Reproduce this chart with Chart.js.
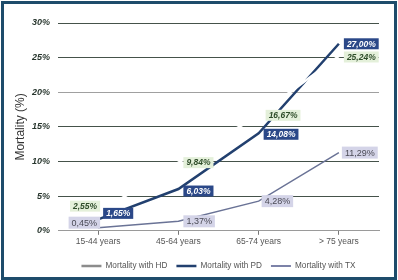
<!DOCTYPE html>
<html>
<head>
<meta charset="utf-8">
<script src="https://cdn.jsdelivr.net/npm/chart.js@4.4.1/dist/chart.umd.min.js"></script>
<style>
  html, body { margin: 0; padding: 0; background: #fff; }
  #wrap { position: relative; width: 398px; height: 280px; }
  #frame {
    position: absolute; left: 1px; top: 1px; width: 390px; height: 273px;
    border: 3px solid #1e4c6b; pointer-events: none;
  }
</style>
</head>
<body>
<div id="wrap">
  <canvas id="mortalityChart" width="398" height="280"></canvas>
  <div id="frame"></div>
</div>
<script>
// -------- Data --------
const categories = ['15-44 years', '45-64 years', '65-74 years', '> 75 years'];
const hdValues = [2.55, 9.84, 16.67, 25.24];
const pdValues = [1.65, 6.03, 14.08, 27.00];
const txValues = [0.45, 1.37, 4.28, 11.29];
const yTickValues = [0, 5, 10, 15, 20, 25, 30];


// -------- Value labels --------
function formatPct(v) {
    return v.toFixed(2).replace('.', ',') + '%';
}

const valueLabels = {
    id: 'valueLabels',
    afterDatasetsDraw(chart) {
        const ctx = chart.ctx;
        chart.data.datasets.forEach((ds, i) => {
            const lab = ds.valueLabel;
            if (!lab) return;
            const meta = chart.getDatasetMeta(i);
            meta.data.forEach((pt, j) => {
                const [side, dx, dy] = lab.place[j];
                const text = formatPct(ds.data[j]);
                ctx.save();
                ctx.font = lab.font;
                const w = ctx.measureText(text).width + lab.padX * 2;
                const h = lab.height;
                const left = side === 'left' ? pt.x + dx : pt.x + dx - w;
                const top = pt.y + dy - h / 2;
                ctx.fillStyle = lab.background;
                ctx.fillRect(left, top, w, h);
                ctx.fillStyle = lab.color;
                ctx.textAlign = 'center';
                ctx.textBaseline = 'middle';
                ctx.fillText(text, left + w / 2, top + h / 2 + 0.5);
                ctx.restore();
            });
        });
    }
};


// -------- Chart --------
const ctx = document.getElementById('mortalityChart').getContext('2d');

new Chart(ctx, {
    type: 'line',
    data: {
        labels: categories,
        datasets: [
            {
                label: 'Mortality with HD',
                data: hdValues,
                borderColor: '#ffffff',
                legendColor: '#8c8c8c',
                borderWidth: 2.5,
                pointRadius: 0,
                tension: 0,
                valueLabel: {
                    font: 'italic bold 8.5px "Liberation Sans", Arial, sans-serif',
                    color: '#2f4d2a',
                    background: '#e4f0da',
                    padX: 3,
                    height: 11,
                    place: [['right', 2, -7], ['left', 5, 0], ['left', 7, 0], ['left', 5, 1]]
                }
            },
            {
                label: 'Mortality with PD',
                data: pdValues,
                borderColor: '#22406f',
                legendColor: '#22406f',
                borderWidth: 2.5,
                pointRadius: 0,
                tension: 0,
                valueLabel: {
                    font: 'italic bold 8.5px "Liberation Sans", Arial, sans-serif',
                    color: '#ffffff',
                    background: '#2b4888',
                    padX: 3,
                    height: 11,
                    place: [['left', 5, -6], ['left', 5, 2], ['left', 5, 1], ['left', 5, 0]]
                }
            },
            {
                label: 'Mortality with TX',
                data: txValues,
                borderColor: '#6a7396',
                legendColor: '#7c82a8',
                borderWidth: 1.5,
                pointRadius: 0,
                tension: 0,
                valueLabel: {
                    font: '9px "Liberation Sans", Arial, sans-serif',
                    color: '#4a4a55',
                    background: '#d4d4e8',
                    padX: 3,
                    height: 12,
                    place: [['right', 2, -5], ['left', 5, 0], ['left', 3, 0], ['left', 3, 0]]
                }
            }
        ]
    },
    options: {
        responsive: false,
        animation: false,
        layout: { padding: { top: 23, left: 8, right: 19, bottom: 0 } },
        plugins: {
            tooltip: { enabled: false },
            legend: {
                position: 'bottom',
                fullSize: false,
                labels: {
                    usePointStyle: true,
                    pointStyleWidth: 20,
                    boxHeight: 8,
                    padding: 9,
                    color: '#555555',
                    font: { family: '"Liberation Sans", Arial, sans-serif', size: 8.2 },
                    generateLabels(chart) {
                        return chart.data.datasets.map((ds, i) => ({
                            text: ds.label,
                            datasetIndex: i,
                            pointStyle: 'line',
                            strokeStyle: ds.legendColor,
                            fillStyle: ds.legendColor,
                            lineWidth: ds.borderWidth === 1.5 ? 2 : ds.borderWidth,
                            fontColor: '#555555',
                            hidden: false
                        }));
                    }
                }
            }
        },
        scales: {
            x: {
                offset: true,
                grid: {
                    drawOnChartArea: false,
                    drawTicks: true,
                    tickLength: 4,
                    color: '#777777'
                },
                border: { display: true, color: '#9a9a9a' },
                ticks: {
                    color: '#555555',
                    padding: 2,
                    font: { family: '"Liberation Sans", Arial, sans-serif', size: 8.5 }
                },
                afterFit(scale) { scale.height = 22; }
            },
            y: {
                min: 0,
                max: 30,
                afterBuildTicks(scale) {
                    scale.ticks = yTickValues.map(v => ({ value: v }));
                },
                grid: {
                    drawTicks: false,
                    lineWidth: 1,
                    color: c => c.tick.value === 20 ? '#a0a0a0' : (c.tick.value === 0 ? '#b0b0b0' : '#45524a')
                },
                border: { display: false },
                ticks: {
                    padding: 8,
                    color: '#27352d',
                    font: { family: '"Liberation Sans", Arial, sans-serif', size: 9, style: 'italic', weight: 'bold' },
                    callback: v => v + '%'
                },
                title: {
                    display: true,
                    text: 'Mortality (%)',
                    color: '#333333',
                    padding: { top: 5, bottom: 0 },
                    font: { family: '"Liberation Sans", Arial, sans-serif', size: 12 }
                },
                afterFit(scale) { scale.width = 50; }
            }
        }
    },
    plugins: [valueLabels]
});
</script>
</body>
</html>
